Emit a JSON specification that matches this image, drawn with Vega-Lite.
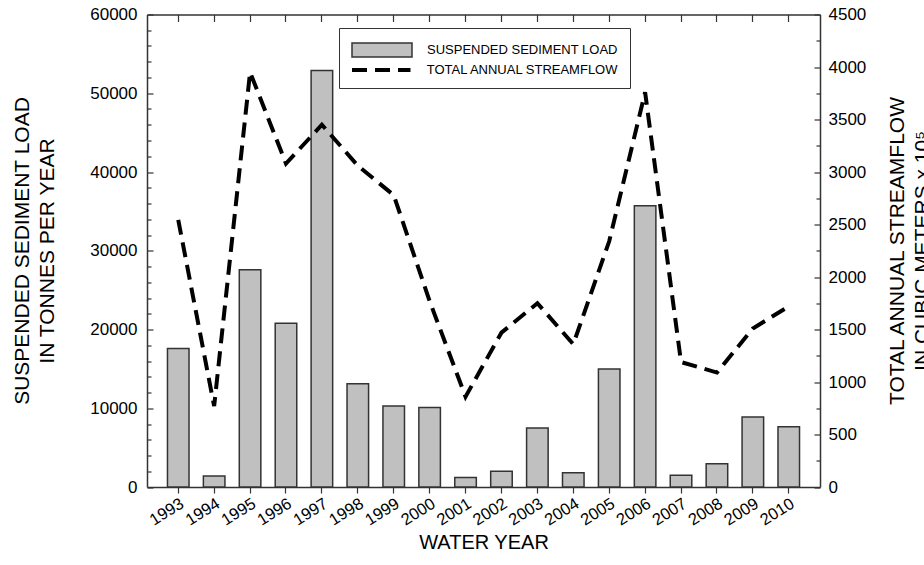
{
  "$schema": "https://vega.github.io/schema/vega-lite/v6.json",
  "width": 673,
  "height": 472.5,
  "autosize": {"type": "none"},
  "padding": {"left": 147, "top": 14.5, "right": 104, "bottom": 78},
  "background": "white",
  "config": {
    "font": "Liberation Sans",
    "view": {"stroke": null},
    "axis": {
      "grid": false,
      "domainColor": "#333",
      "domainWidth": 1.5,
      "tickColor": "#333",
      "tickWidth": 1.2,
      "labelColor": "black",
      "labelFont": "Liberation Sans",
      "labelFontSize": 17,
      "titleColor": "black",
      "titleFont": "Liberation Sans",
      "titleFontWeight": "normal"
    },
    "legend": {
      "labelFont": "Liberation Sans",
      "labelFontSize": 13,
      "labelColor": "black",
      "labelLimit": 0,
      "labelOffset": 14,
      "symbolSize": 3600,
      "clipHeight": 20,
      "rowPadding": 0,
      "orient": "none"
    }
  },
  "data": {
    "values": [
      {"year": 1993, "load": 17600, "flow": 2545},
      {"year": 1994, "load": 1400, "flow": 770},
      {"year": 1995, "load": 27600, "flow": 3950},
      {"year": 1996, "load": 20800, "flow": 3080},
      {"year": 1997, "load": 52900, "flow": 3450},
      {"year": 1998, "load": 13100, "flow": 3060},
      {"year": 1999, "load": 10300, "flow": 2780},
      {"year": 2000, "load": 10100, "flow": 1770},
      {"year": 2001, "load": 1200, "flow": 860},
      {"year": 2002, "load": 2000, "flow": 1470},
      {"year": 2003, "load": 7500, "flow": 1750},
      {"year": 2004, "load": 1800, "flow": 1360},
      {"year": 2005, "load": 15000, "flow": 2340},
      {"year": 2006, "load": 35700, "flow": 3760},
      {"year": 2007, "load": 1500, "flow": 1190},
      {"year": 2008, "load": 2950, "flow": 1090},
      {"year": 2009, "load": 8900, "flow": 1510},
      {"year": 2010, "load": 7650, "flow": 1720}
    ]
  },
  "layer": [
    {
      "mark": {"type": "bar", "stroke": "#333", "strokeWidth": 1.5},
      "encoding": {
        "x": {
          "field": "year",
          "type": "ordinal",
          "scale": {"type": "band", "paddingInner": 0.4, "paddingOuter": 0.57},
          "axis": {
            "orient": "bottom",
            "title": "WATER YEAR",
            "titleFontSize": 20,
            "titleBaseline": "middle",
            "titleY": 55,
            "labelAngle": -32,
            "labelPadding": 2,
            "labelFontSize": 16.5,
            "tickSize": 6
          }
        },
        "y": {
          "field": "load",
          "type": "quantitative",
          "scale": {"domain": [0, 60000], "nice": false},
          "axis": {
            "orient": "left",
            "values": [0, 2000, 4000, 6000, 8000, 10000, 12000, 14000, 16000, 18000, 20000, 22000, 24000, 26000, 28000, 30000, 32000, 34000, 36000, 38000, 40000, 42000, 44000, 46000, 48000, 50000, 52000, 54000, 56000, 58000, 60000],
            "format": "d",
            "labelExpr": "datum.value % 10000 === 0 ? datum.label : ''",
            "tickSize": {"condition": {"test": "datum.value % 10000 === 0", "value": -6}, "value": -4},
            "labelPadding": 16,
            "title": ["SUSPENDED SEDIMENT LOAD", "IN TONNES PER YEAR"],
            "titleFontSize": 21,
            "titleLineHeight": 25,
            "titleAngle": -90,
            "titleAlign": "center",
            "titleBaseline": "top",
            "titleX": -136,
            "titleY": 236
          }
        },
        "fill": {
          "datum": "SUSPENDED SEDIMENT LOAD",
          "scale": {"range": ["#c0c0c0"]},
          "legend": {
            "title": "\u00a0",
            "titleOrient": "bottom",
            "titleFontSize": 14,
            "titlePadding": 2,
            "legendX": 192,
            "legendY": 13.5,
            "padding": 12,
            "strokeColor": "#333",
            "symbolType": "M-1,-0.233H1V0.233H-1Z",
            "symbolStrokeColor": "#333",
            "symbolStrokeWidth": 1.5
          }
        }
      }
    },
    {
      "mark": {"type": "line", "color": "black", "strokeWidth": 4, "strokeCap": "butt"},
      "encoding": {
        "x": {
          "field": "year",
          "type": "ordinal",
          "axis": {"orient": "top", "labels": false, "title": null, "tickSize": -7}
        },
        "y": {
          "field": "flow",
          "type": "quantitative",
          "scale": {"domain": [0, 4500], "nice": false},
          "axis": {
            "orient": "right",
            "values": [0, 250, 500, 750, 1000, 1250, 1500, 1750, 2000, 2250, 2500, 2750, 3000, 3250, 3500, 3750, 4000, 4250, 4500],
            "format": "d",
            "labelExpr": "datum.value % 500 === 0 ? datum.label : ''",
            "tickSize": {"condition": {"test": "datum.value % 500 === 0", "value": -6}, "value": -4},
            "labelPadding": 14,
            "title": ["TOTAL ANNUAL STREAMFLOW", "IN CUBIC METERS x 10⁵"],
            "titleFontSize": 21,
            "titleLineHeight": 25,
            "titleAngle": -90,
            "titleAlign": "center",
            "titleBaseline": "top",
            "titleX": 66,
            "titleY": 236
          }
        },
        "strokeDash": {
          "datum": "TOTAL ANNUAL STREAMFLOW",
          "scale": {"range": [[15, 8]]},
          "legend": {
            "title": null,
            "legendX": 203,
            "legendY": 45.5,
            "padding": 0,
            "labelOffset": 12.8,
            "symbolType": "M-1,0H0.95",
            "symbolStrokeColor": "black",
            "symbolStrokeWidth": 4
          }
        }
      }
    }
  ],
  "resolve": {"scale": {"y": "independent"}, "axis": {"x": "independent"}}
}
